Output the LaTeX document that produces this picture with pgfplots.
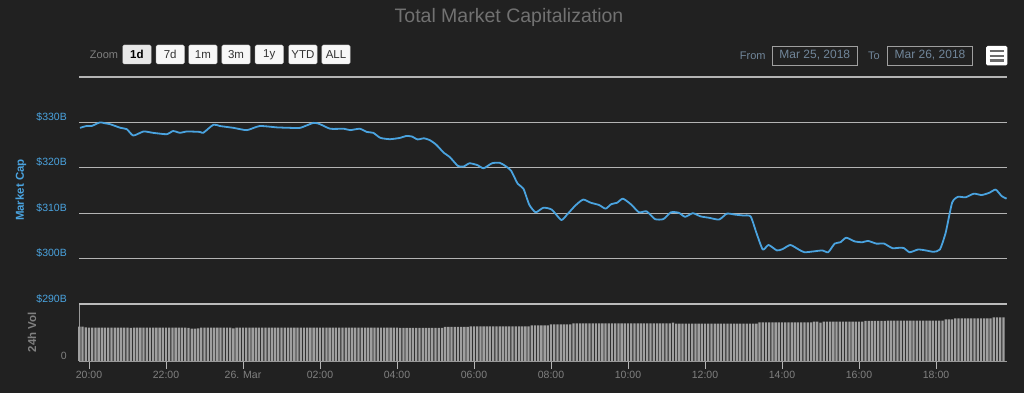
\documentclass[border=0pt]{standalone}
\usepackage{pgfplots}
\pgfplotsset{compat=1.18}
\usepackage{fontspec}
\setmainfont{Liberation Sans}
\definecolor{bgc}{HTML}{212121}
\definecolor{linec}{HTML}{4AA3DF}
\definecolor{gridc}{HTML}{B4B4B4}
\definecolor{barc}{HTML}{A0A0A0}
\definecolor{labc}{HTML}{808080}
\definecolor{titc}{HTML}{717171}
\definecolor{datec}{HTML}{71869A}
\definecolor{btnf}{HTML}{F7F7F7}
\definecolor{btnd}{HTML}{CCCCCC}
\definecolor{btnt}{HTML}{333333}
\begin{document}
\begin{tikzpicture}[x=1pt,y=1pt]
\fill[bgc] (0,0) rectangle (1024,393);
% title
\node[text=titc, font=\fontsize{19.5}{22}\selectfont] at (509,375.5) {Total Market Capitalization};
% zoom buttons
\node[text=labc, font=\fontsize{11}{12}\selectfont] at (104,338.5) {Zoom};
\tikzset{btn/.style={fill=btnf, draw=btnd, rounded corners=1.5pt, minimum width=28.3pt, minimum height=19pt, inner sep=0pt, text=btnt, font=\fontsize{11.5}{12}\selectfont}}
\node[btn, fill=gray!18, text=black, font=\fontsize{11.5}{12}\selectfont\bfseries] at (136.9,338.5) {1d};
\node[btn] at (170.2,338.5) {7d};
\node[btn] at (202.9,338.5) {1m};
\node[btn] at (236,338.5) {3m};
\node[btn] at (269.2,338.5) {1y};
\node[btn] at (302.9,338.5) {YTD};
\node[btn] at (336,338.5) {ALL};
% date range
\node[text=datec, font=\fontsize{11}{12}\selectfont] at (752.8,337.5) {From};
\node[draw=gray!75, line width=0.8pt, minimum width=84.3pt, minimum height=19pt, inner sep=0pt, text=datec, font=\fontsize{12}{13}\selectfont] at (814.8,337.5) {Mar 25, 2018};
\node[text=datec, font=\fontsize{11}{12}\selectfont] at (874,337.5) {To};
\node[draw=gray!75, line width=0.8pt, minimum width=84.7pt, minimum height=19pt, inner sep=0pt, text=datec, font=\fontsize{12}{13}\selectfont] at (930,337.5) {Mar 26, 2018};
\fill[white, rounded corners=1.5pt] (986,327.5) rectangle (1007.3,347);
\foreach \yy in {332.5,337.3,342} {\draw[gray!85!black, line width=2.3pt] (989.7,\yy) -- (1003.6,\yy);}
% axis titles
\node[rotate=90, text=linec, font=\fontsize{11.5}{12}\selectfont\bfseries] at (21,203) {Market Cap};
\node[rotate=90, text=labc, font=\fontsize{11.5}{12}\selectfont\bfseries] at (32,61) {24h Vol};
% main pane
\begin{axis}[
  at={(79pt,89pt)}, anchor=south west,
  width=928pt, height=227pt, scale only axis,
  xmin=-15.6, xmax=1430.6, ymin=290, ymax=340,
  axis line style={draw=none},
  xtick=\empty,
  ytick={290,300,310,320,330,340},
  yticklabels={\$290B,\$300B,\$310B,\$320B,\$330B,{}},
  major tick length=0pt,
  ymajorgrids, grid style={gridc, line width=1.3pt},
  yticklabel style={text=linec, font=\fontsize{10.5}{12}\selectfont, anchor=east, inner sep=0pt, xshift=-12pt, yshift=5.5pt},
  /pgf/number format/assume math mode=true,
  clip=false,
]
\addplot[linec, line width=1.8pt, line join=round, smooth, tension=0.35] coordinates {
(-14,328.8)(-4,329.2)(4,329.2)(17,330.0)(25,329.8)(33,329.6)(49,328.8)(59,328.5)(69,327.1)
(85,328.0)(100,327.7)(121,327.4)(131,328.1)(142,327.7)(152,328.0)(173,327.9)(178,327.7)
(194,329.5)(204,329.2)(225,328.8)(246,328.3)(266,329.2)(293,328.9)(313,328.8)(329,328.8)
(350,329.9)(360,329.6)(376,328.6)(397,328.6)(407,328.3)(422,328.6)(433,327.9)(443,327.7)
(454,326.6)(469,326.3)(485,326.6)(494,327.0)(503,326.9)(512,326.25)(522,326.5)(531,326.1)
(541,325.1)(553,323.3)(562,322.4)(575,320.4)(584,320.3)(593,321.0)(605,320.6)(615,319.9)
(628,321.0)(640,321.1)(649,320.4)(658,319.3)(668,316.5)(677,315.4)(686,311.9)(696,310.2)
(708,311.2)(721,310.8)(736,308.5)(745,309.7)(758,311.7)(770,313.0)(782,312.3)(795,311.8)
(805,311.0)(814,312.0)(823,312.3)(832,313.2)(845,311.9)(857,310.2)(869,310.4)(882,308.7)
(895,308.7)(907,310.2)(919,310.1)(929,309.2)(941,310.0)(953,309.3)(966,309.0)(982,308.6)
(994,309.9)(1006,309.7)(1019,309.5)(1031,309.3)(1040,305.7)(1050,302.0)(1059,303.0)
(1072,301.8)(1081,302.1)(1093,303.0)(1106,302.0)(1115,301.4)(1130,301.6)(1143,301.8)
(1152,301.4)(1162,303.3)(1171,303.6)(1180,304.6)(1193,303.8)(1205,303.6)(1214,303.9)
(1227,303.3)(1239,303.3)(1252,302.3)(1264,302.4)(1270,302.3)(1279,301.4)(1292,302.0)
(1304,301.8)(1316,301.5)(1326,302.0)(1335,305.7)(1345,312.3)(1354,313.6)(1366,313.5)
(1379,314.3)(1391,314.0)(1403,314.5)(1413,315.2)(1422,313.8)(1430,313.2)
};
\end{axis}
% volume pane
\begin{axis}[
  at={(79pt,32pt)}, anchor=south west,
  width=928pt, height=57pt, scale only axis,
  xmin=-15.6, xmax=1430.6, ymin=0, ymax=17.1,
  axis x line=bottom, axis y line=left,
  axis line style={-, gridc!85!black, line width=0.9pt},
  xtick={0,120,240,360,480,600,720,840,960,1080,1200,1320},
  xticklabels={20:00,22:00,26. Mar,02:00,04:00,06:00,08:00,10:00,12:00,14:00,16:00,18:00},
  xtick align=outside, major tick length=8pt,
  xtick style={gridc, line width=0.9pt},
  ytick={0}, yticklabels={0},
  ytick style={draw=none},
  xticklabel style={text=labc, font=\fontsize{10.5}{12}\selectfont, inner sep=0pt, yshift=-1.5pt},
  yticklabel style={text=labc, font=\fontsize{10.5}{12}\selectfont, anchor=east, inner sep=0pt, xshift=-8pt, yshift=5.5pt},
  /pgf/number format/assume math mode=true,
  clip=false,
]
\addplot[ybar, bar width=3.6, fill=barc, draw=none] coordinates {
(-15,10.3)(-10,10.3)(-5,10.1)(0,10.0)(5,10.0)(10,10.0)(15,10.0)(20,10.0)(25,10.0)(30,10.0)(35,10.0)(40,10.0)
(45,10.0)(50,10.0)(55,10.0)(60,10.0)(65,9.9)(70,10.0)(75,10.0)(80,10.0)(85,10.0)(90,10.0)(95,10.0)(100,10.0)
(105,10.0)(110,10.0)(115,10.0)(120,10.0)(125,10.0)(130,10.0)(135,10.0)(140,10.0)(145,10.0)(150,10.0)(155,9.9)
(160,9.7)(165,9.7)(170,9.8)(175,10.0)(180,10.0)(185,10.0)(190,10.0)(195,10.0)(200,10.0)(205,10.0)(210,10.0)
(215,10.0)(220,10.0)(225,9.8)(230,10.0)(235,10.0)(240,10.0)(245,10.0)(250,10.0)(255,10.0)(260,10.0)(265,10.0)
(270,10.0)(275,10.0)(280,10.0)(285,10.0)(290,10.0)(295,10.0)(300,10.0)(305,10.0)(310,10.0)(315,10.0)(320,10.0)
(325,10.0)(330,10.0)(335,10.0)(340,10.0)(345,10.0)(350,10.0)(355,10.0)(360,10.0)(365,10.0)(370,10.0)(375,10.0)
(380,10.0)(385,10.0)(390,10.0)(395,10.0)(400,10.0)(405,10.0)(410,10.0)(415,10.0)(420,10.0)(425,10.0)(430,10.0)
(435,10.0)(440,10.0)(445,10.0)(450,10.0)(455,10.0)(460,10.0)(465,10.0)(470,10.0)(475,10.0)(480,10.0)
(485,9.9)(490,9.9)(495,9.9)(500,9.9)(505,9.9)(510,9.9)(515,9.9)(520,9.9)(525,9.9)(530,9.9)(535,9.9)(540,9.9)(545,9.9)(550,9.9)
(555,10.2)(560,10.2)(565,10.2)(570,10.2)(575,10.2)(580,10.2)(585,10.2)(590,10.2)
(595,10.4)(600,10.4)(605,10.4)(610,10.4)(615,10.4)(620,10.4)(625,10.4)(630,10.4)(635,10.4)(640,10.4)
(645,10.4)(650,10.4)(655,10.4)(660,10.4)(665,10.4)(670,10.4)(675,10.4)(680,10.4)(685,10.4)
(690,10.7)(695,10.7)(700,10.7)(705,10.7)(710,10.7)(715,10.7)
(720,11.0)(725,11.0)(730,11.0)(735,11.0)(740,11.0)(745,11.0)(750,11.0)
(755,11.3)(760,11.3)(765,11.3)(770,11.3)(775,11.3)(780,11.3)(785,11.3)(790,11.3)(795,11.3)(800,11.3)
(805,11.3)(810,11.3)(815,11.3)(820,11.3)(825,11.3)(830,11.3)(835,11.3)(840,11.3)(845,11.3)(850,11.3)
(855,11.3)(860,11.3)(865,11.3)(870,11.3)(875,11.3)(880,11.3)(885,11.3)(890,11.3)(895,11.3)(900,11.3)(905,11.3)
(910,11.5)
(915,11.2)(920,11.2)(925,11.2)(930,11.2)(935,11.2)(940,11.2)(945,11.2)(950,11.2)(955,11.2)(960,11.2)
(965,11.2)(970,11.2)(975,11.2)(980,11.2)(985,11.2)(990,11.2)(995,11.2)(1000,11.2)(1005,11.2)(1010,11.2)
(1015,11.2)(1020,11.2)(1025,11.2)(1030,11.2)(1035,11.2)(1040,11.2)
(1045,11.6)(1050,11.6)(1055,11.6)(1060,11.6)(1065,11.6)(1070,11.6)(1075,11.6)(1080,11.6)(1085,11.6)
(1090,11.6)(1095,11.6)(1100,11.6)(1105,11.6)(1110,11.6)(1115,11.6)(1120,11.6)(1125,11.6)
(1130,11.8)(1135,11.8)(1140,11.5)
(1145,11.8)(1150,11.8)(1155,11.8)(1160,11.8)(1165,11.8)(1170,11.8)(1175,11.8)(1180,11.8)(1185,11.8)
(1190,11.8)(1195,11.8)(1200,11.8)(1205,11.8)
(1210,12.0)(1215,12.0)(1220,12.0)(1225,12.0)(1230,12.0)(1235,12.0)(1240,12.0)
(1245,12.1)(1250,12.1)(1255,12.1)(1260,12.1)(1265,12.1)(1270,12.1)(1275,12.1)(1280,12.1)(1285,12.1)
(1290,12.1)(1295,12.1)(1300,12.1)(1305,12.1)(1310,12.1)(1315,12.1)(1320,12.1)(1325,12.1)(1330,12.1)
(1335,12.5)(1340,12.5)(1345,12.5)
(1350,12.8)(1355,12.8)(1360,12.8)(1365,12.8)(1370,12.8)(1375,12.8)(1380,12.8)(1385,12.8)(1390,12.8)
(1395,12.8)(1400,12.8)(1405,12.8)
(1410,13.1)(1415,13.1)(1420,13.1)(1425,13.1)
};
\draw[gridc!90!white, line width=1.8pt] (rel axis cs:0,1) -- (rel axis cs:1,1);
\end{axis}
\end{tikzpicture}
\end{document}
